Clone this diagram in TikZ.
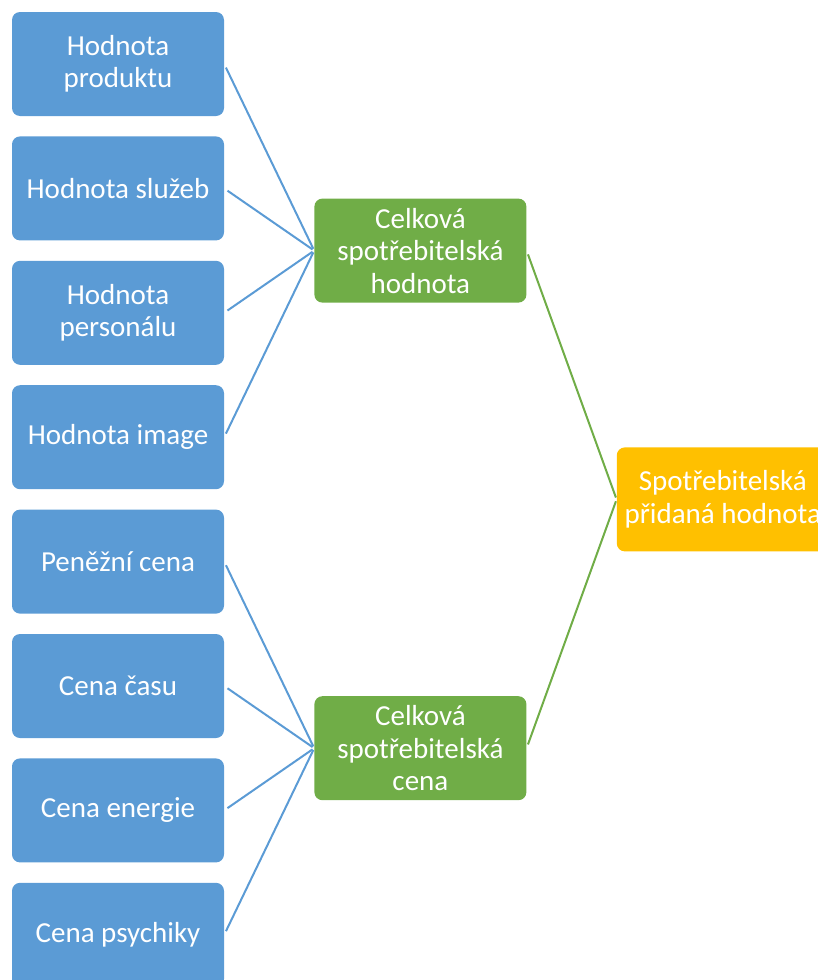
\documentclass[tikz,border=0pt]{standalone}
\usepackage{fontspec}
\setmainfont{Carlito}
\usetikzlibrary{positioning, calc}

\definecolor{boxblue}{HTML}{5B9BD5}
\definecolor{boxgreen}{HTML}{70AD47}
\definecolor{boxgold}{HTML}{FFC000}

\begin{document}
\begin{tikzpicture}[
  x=1pt, y=-1pt,
  item/.style={rectangle, rounded corners=8pt, fill=boxblue, text=white, minimum width=212pt, minimum height=104pt, align=center, inner sep=2pt, font=\fontsize{29}{32.5}\selectfont},
  sum/.style={item, fill=boxgreen},
  total/.style={item, fill=boxgold},
  link/.style={boxblue, line width=2pt, shorten <=4pt, shorten >=2pt},
  glink/.style={link, draw=boxgreen},
  node distance=20pt and 90pt
]
\useasboundingbox (0,0) rectangle (818,980);

% Nodes
\node[item] (a1) at (118,64) {Hodnota\\produktu};
\node[item, below=of a1] (a2) {Hodnota služeb};
\node[item, below=of a2] (a3) {Hodnota\\personálu};
\node[item, below=of a3] (a4) {Hodnota image};
\node[item, below=of a4] (a5) {Peněžní cena};
\node[item, below=of a5] (a6) {Cena času};
\node[item, below=of a6] (a7) {Cena energie};
\node[item, below=of a7] (a8) {Cena psychiky};

\coordinate (m1) at ($(a2.east)!0.5!(a3.east)$);
\coordinate (m2) at ($(a6.east)!0.5!(a7.east)$);
\node[sum, right=of m1] (value) {Celková\\spotřebitelská\\hodnota};
\node[sum, right=of m2] (cost) {Celková\\spotřebitelská\\cena};

\coordinate (m3) at ($(value.east)!0.5!(cost.east)$);
\node[total, right=of m3] (added) {Spotřebitelská\\přidaná hodnota};

% Lines
\foreach \i in {1,...,4}
  \draw[link] (a\i.east) -- (value.west);
\foreach \i in {5,...,8}
  \draw[link] (a\i.east) -- (cost.west);
\draw[glink] (value.east) -- (added.west);
\draw[glink] (cost.east) -- (added.west);

\end{tikzpicture}
\end{document}
